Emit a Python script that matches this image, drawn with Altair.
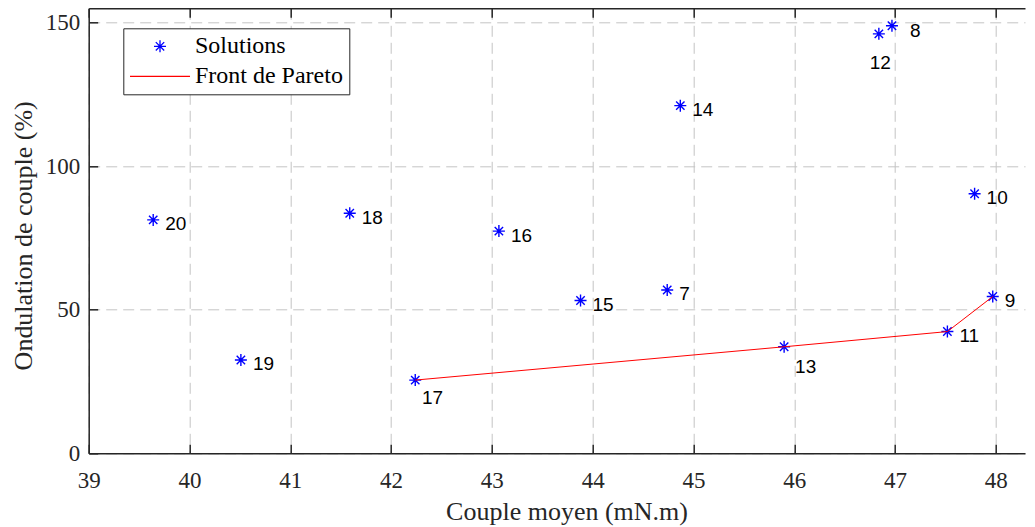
import altair as alt
import pandas as pd

# ---- data ----
ids = [7, 8, 9, 10, 11, 12, 13, 14, 15, 16, 17, 18, 19, 20]
couple_moyen = [44.74, 46.97, 47.97, 47.79, 47.52, 46.84, 45.90, 44.87, 43.88, 43.07, 42.24, 41.59, 40.51, 39.64]
ondulation = [56.9, 148.9, 54.6, 90.4, 42.4, 146.1, 37.1, 121.1, 53.2, 77.4, 25.5, 83.6, 32.5, 81.3]
pareto_ids = [17, 13, 11, 9]
series = ["Solutions", "Front de Pareto"]
x_ticks = [39, 40, 41, 42, 43, 44, 45, 46, 47, 48]
y_ticks = [0, 50, 100, 150]

# label groups (by id)
lab_default = ["7", "9", "10", "11", "14", "15", "16", "18", "19", "20"]
lab_8 = ["8"]
lab_12 = ["12"]
lab_13 = ["13"]
lab_17 = ["17"]

df = pd.DataFrame({"id": ids, "x": couple_moyen, "y": ondulation})
df["label"] = df["id"].astype(str)
df["serie"] = "Solutions"
pareto = df.set_index("id").loc[pareto_ids].reset_index()
pareto["ordre"] = list(range(len(pareto)))

AX = "#262626"
GRID = "#c4c4c4"
SERIF = "Liberation Serif"
SANS = "Liberation Sans"

xs = alt.Scale(domain=[39, 48.29], nice=False, zero=False)
ys = alt.Scale(domain=[0, 155], nice=False, zero=False)

ASTERISK = "M0,-0.6L0,0.6M-0.6,0L0.6,0M-0.42,-0.42L0.42,0.42M-0.42,0.42L0.42,-0.42"
LINE_SYM = "M-3,0L3,0"

main_x = alt.Axis(orient="bottom", values=x_ticks, title="Couple moyen (mN.m)",
                  grid=True, gridColor=GRID, gridDash=[11, 6], gridWidth=1,
                  ticks=False, tickSize=0, domain=True, domainColor=AX, domainWidth=1.5,
                  labelFont=SERIF, labelFontSize=23, labelColor=AX, labelPadding=34,
                  labelBaseline="alphabetic", labelFlush=False, labelOverlap=False,
                  titleFont=SERIF, titleFontSize=26, titleFontWeight="normal", titleColor=AX,
                  titleX=477.8, titleY=66, titleBaseline="alphabetic", titleAlign="center")
main_y = alt.Axis(orient="left", values=y_ticks, title="Ondulation de couple (%)",
                  grid=True, gridColor=GRID, gridDash=[11, 6], gridWidth=1,
                  ticks=False, tickSize=0, domain=True, domainColor=AX, domainWidth=1.5,
                  labelFont=SERIF, labelFontSize=23, labelColor=AX, labelPadding=9,
                  labelFlush=False, labelOverlap=False,
                  titleFont=SERIF, titleFontSize=26, titleFontWeight="normal", titleColor=AX,
                  titleX=-57.7, titleY=227, titleAngle=270, titleBaseline="alphabetic",
                  titleAlign="center")
in_x_bottom = alt.Axis(orient="bottom", values=x_ticks, title=None, labels=False, grid=False,
                       domain=False, ticks=True, tickSize=9, tickWidth=1.5, tickColor=AX, offset=-9)
in_y_left = alt.Axis(orient="left", values=y_ticks, title=None, labels=False, grid=False,
                     domain=False, ticks=True, tickSize=9, tickWidth=1.5, tickColor=AX, offset=-9)
top_domain = alt.Axis(orient="top", values=x_ticks, title=None, labels=False, grid=False,
                      ticks=False, domain=True, domainColor=AX, domainWidth=1.5)
top_ticks = alt.Axis(orient="top", values=x_ticks, title=None, labels=False, grid=False,
                     domain=False, ticks=True, tickSize=9, tickWidth=1.5, tickColor=AX, offset=-9)

legend = alt.Legend(title=None, orient="none", legendX=34.6, legendY=20, padding=6,
                    symbolSize=400, symbolStrokeWidth=1.3, symbolOffset=18.7, labelOffset=23,
                    labelFont=SERIF, labelFontSize=24, labelColor="black", rowPadding=6,
                    strokeColor=AX, fillColor="white")

shape_scale = alt.Scale(domain=series, range=[ASTERISK, LINE_SYM])
color_scale = alt.Scale(domain=series, range=["#0000ff", "#ff0000"])

points = alt.Chart(df).mark_point(filled=False, size=400, strokeWidth=1.4, opacity=1).encode(
    x=alt.X("x:Q", scale=xs, axis=main_x),
    y=alt.Y("y:Q", scale=ys, axis=main_y),
    color=alt.Color("serie:N", scale=color_scale, legend=legend),
    shape=alt.Shape("serie:N", scale=shape_scale, legend=legend),
)

line = alt.Chart(pareto).mark_line(color="#ff0000", strokeWidth=1).encode(
    x=alt.X("x:Q", scale=xs, axis=in_x_bottom),
    y=alt.Y("y:Q", scale=ys, axis=in_y_left),
    order="ordre:Q",
)


def labels(group, dx, dy, align="left", xaxis=None):
    return alt.Chart(df).transform_filter(
        alt.FieldOneOfPredicate(field="label", oneOf=group)
    ).mark_text(align=align, baseline="middle", dx=dx, dy=dy, font=SANS, fontSize=19,
                color="black").encode(
        x=alt.X("x:Q", scale=xs, axis=xaxis),
        y=alt.Y("y:Q", scale=ys, axis=None),
        text="label:N",
    )


t_def = labels(lab_default, 12, 4.5, xaxis=top_domain)
t_8 = labels(lab_8, 18, 5.5, xaxis=top_ticks)
t_12 = labels(lab_12, 12, 28.8, align="right")
t_13 = labels(lab_13, 11, 20)
t_17 = labels(lab_17, 6.7, 18)

chart = alt.layer(points, line, t_def, t_8, t_12, t_13, t_17).properties(
    width=936.3, height=445,
    padding={"left": 80.7, "top": 0.3, "right": 2, "bottom": 76},
    autosize=alt.AutoSizeParams(type="none"),
).resolve_axis(x="independent", y="independent").configure_view(stroke=None)

chart.save("out.html", embed_options={"renderer": "svg", "actions": False})
